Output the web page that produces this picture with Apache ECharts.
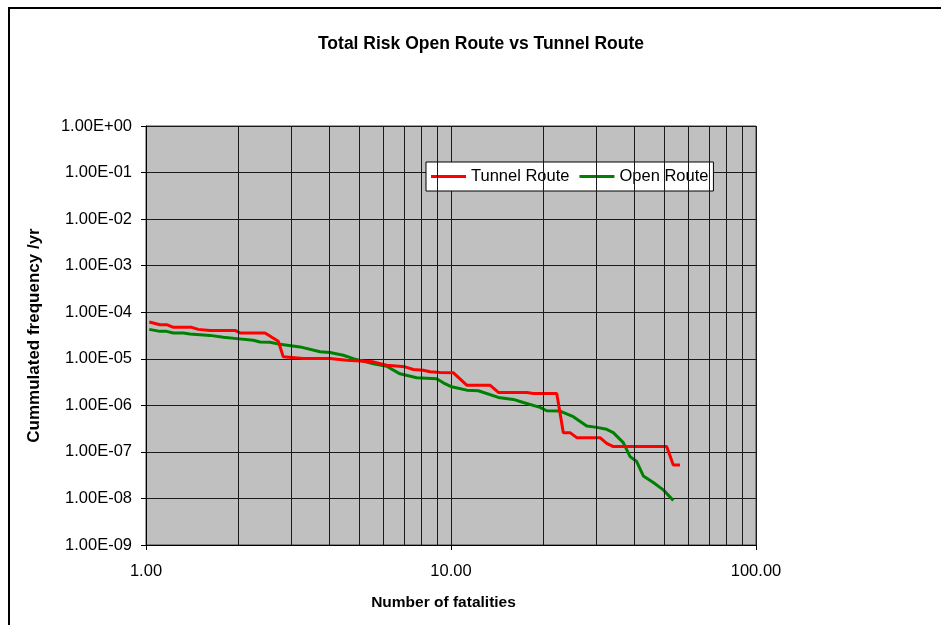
<!DOCTYPE html>
<html>
<head>
<meta charset="utf-8">
<script src="https://cdn.jsdelivr.net/npm/echarts@6/dist/echarts.min.js"></script>
<style>
html,body{margin:0;padding:0;background:#fff;}
#chart{width:941px;height:625px;}
</style>
</head>
<body>
<div id="chart"></div>
<script>
// Number of fatalities (N) and cumulated frequency (F) per route
const tunnelN = [1.025, 1.112, 1.169, 1.229, 1.412, 1.484, 1.621, 1.958, 2.033, 2.456, 2.715, 2.819, 3.280, 4.012, 4.550, 5.563, 6.155, 7.068, 7.522, 8.114, 8.534, 9.203, 10.17, 11.26, 13.42, 14.30, 17.71, 18.62, 22.22, 23.35, 24.56, 25.84, 30.80, 32.39, 34.05, 50.95, 53.56, 56.33];
const tunnelF = [6.17e-5, 5.40e-5, 5.40e-5, 4.73e-5, 4.73e-5, 4.28e-5, 4.07e-5, 4.07e-5, 3.59e-5, 3.59e-5, 2.37e-5, 1.10e-5, 1.01e-5, 1.01e-5, 9.29e-6, 8.59e-6, 7.26e-6, 6.71e-6, 5.87e-6, 5.67e-6, 5.25e-6, 5.06e-6, 5.03e-6, 2.71e-6, 2.71e-6, 1.89e-6, 1.89e-6, 1.80e-6, 1.80e-6, 2.59e-7, 2.59e-7, 2.02e-7, 2.02e-7, 1.53e-7, 1.30e-7, 1.30e-7, 5.24e-8, 5.24e-8];
const openN = [1.025, 1.112, 1.169, 1.229, 1.325, 1.394, 1.621, 1.792, 1.984, 2.248, 2.364, 2.551, 2.750, 3.199, 3.721, 4.012, 4.436, 4.783, 5.563, 6.155, 6.804, 7.717, 8.977, 9.436, 10.05, 11.26, 12.29, 14.30, 16.01, 17.26, 19.58, 20.60, 22.77, 25.18, 27.86, 30.05, 32.39, 34.05, 36.72, 38.64, 40.63, 42.71, 46.06, 49.67, 53.56];
const openF = [4.28e-5, 3.88e-5, 3.88e-5, 3.59e-5, 3.59e-5, 3.41e-5, 3.18e-5, 2.89e-5, 2.71e-5, 2.49e-5, 2.30e-5, 2.26e-5, 2.04e-5, 1.80e-5, 1.41e-5, 1.36e-5, 1.19e-5, 1.01e-5, 7.78e-6, 6.91e-6, 4.75e-6, 3.90e-6, 3.71e-6, 3.05e-6, 2.50e-6, 2.12e-6, 2.06e-6, 1.48e-6, 1.34e-6, 1.15e-6, 9.02e-7, 7.66e-7, 7.51e-7, 5.70e-7, 3.59e-7, 3.36e-7, 3.05e-7, 2.59e-7, 1.58e-7, 7.93e-8, 6.20e-8, 3.05e-8, 2.20e-8, 1.53e-8, 9.06e-9];
const minorGridN = [2, 3, 4, 5, 6, 7, 8, 9, 20, 30, 40, 50, 60, 70, 80, 90];
const seriesNames = ['Tunnel Route', 'Open Route'];

const FONT = 'Liberation Sans, Arial, sans-serif';
function zip(a, b) { return a.map((v, i) => [v, b[i]]); }
function fmtE(v) {
  const s = Number(v).toExponential(2);
  const parts = s.split('e');
  const e = parseInt(parts[1], 10);
  const a = Math.abs(e);
  return parts[0] + 'E' + (e < 0 ? '-' : '+') + (a < 10 ? '0' : '') + a;
}

const chart = echarts.init(document.getElementById('chart'), null, {renderer: 'canvas'});
chart.setOption({
  animation: false,
  backgroundColor: '#ffffff',
  graphic: [{
    type: 'rect', silent: true, z: 100,
    shape: {x: 9, y: 8, width: 1200, height: 1200},
    style: {fill: 'none', stroke: '#000', lineWidth: 2}
  }],
  title: {
    text: 'Total Risk Open Route vs Tunnel Route',
    left: 476, top: 30, textAlign: 'center',
    textStyle: {fontFamily: FONT, fontSize: 17.5, fontWeight: 'bold', color: '#000'}
  },
  legend: {
    data: seriesNames,
    left: 426, top: 162,
    orient: 'horizontal',
    backgroundColor: '#fff',
    borderColor: '#000', borderWidth: 1, borderRadius: 0,
    padding: [6, 5, 6, 5],
    itemGap: 10, itemWidth: 35, itemHeight: 3,
    icon: 'rect',
    selectedMode: false,
    textStyle: {fontFamily: FONT, fontSize: 16.5, color: '#000'}
  },
  grid: {left: 146, top: 126, width: 610, height: 419, show: true,
         backgroundColor: '#C0C0C0', borderColor: '#404040', borderWidth: 1},
  xAxis: {
    type: 'log', logBase: 10, min: 1, max: 100,
    name: 'Number of fatalities', nameLocation: 'middle', nameGap: 50,
    nameTextStyle: {fontFamily: FONT, fontSize: 15.5, fontWeight: 'bold', color: '#000',
                    padding: [0, 15, 0, 0]},
    axisLine: {show: true, lineStyle: {color: '#000', width: 1}},
    axisTick: {show: true, inside: false, length: 5, lineStyle: {color: '#000'}},
    axisLabel: {fontFamily: FONT, fontSize: 16.5, color: '#000', margin: 18,
                formatter: v => Number(v).toFixed(2)},
    splitLine: {show: true, lineStyle: {color: '#1a1a1a', width: 1}}
  },
  yAxis: {
    type: 'log', logBase: 10, min: 1e-9, max: 1,
    name: 'Cummulated frequency /yr', nameLocation: 'middle', nameGap: 103, nameRotate: 90,
    nameTextStyle: {fontFamily: FONT, fontSize: 17, fontWeight: 'bold', color: '#000'},
    axisLine: {show: true, lineStyle: {color: '#000', width: 1}},
    axisTick: {show: true, inside: false, length: 5, lineStyle: {color: '#000'}},
    axisLabel: {fontFamily: FONT, fontSize: 16.5, color: '#000', margin: 14, formatter: fmtE},
    splitLine: {show: true, lineStyle: {color: '#1a1a1a', width: 1}}
  },
  series: [
    {
      name: '_grid', type: 'line', data: [], silent: true, z: 1,
      markLine: {
        silent: true, symbol: ['none', 'none'], animation: false,
        label: {show: false},
        lineStyle: {color: '#1a1a1a', width: 1, type: 'solid'},
        emphasis: {disabled: true},
        data: minorGridN.map(v => ({xAxis: v}))
      }
    },
    {
      name: seriesNames[0], type: 'line', data: zip(tunnelN, tunnelF),
      showSymbol: false, symbol: 'none', z: 3,
      lineStyle: {color: '#FF0000', width: 3}, itemStyle: {color: '#FF0000'},
      emphasis: {disabled: true}
    },
    {
      name: seriesNames[1], type: 'line', data: zip(openN, openF),
      showSymbol: false, symbol: 'none', z: 2,
      lineStyle: {color: '#008000', width: 3}, itemStyle: {color: '#008000'},
      emphasis: {disabled: true}
    }
  ]
});
</script>
</body>
</html>
